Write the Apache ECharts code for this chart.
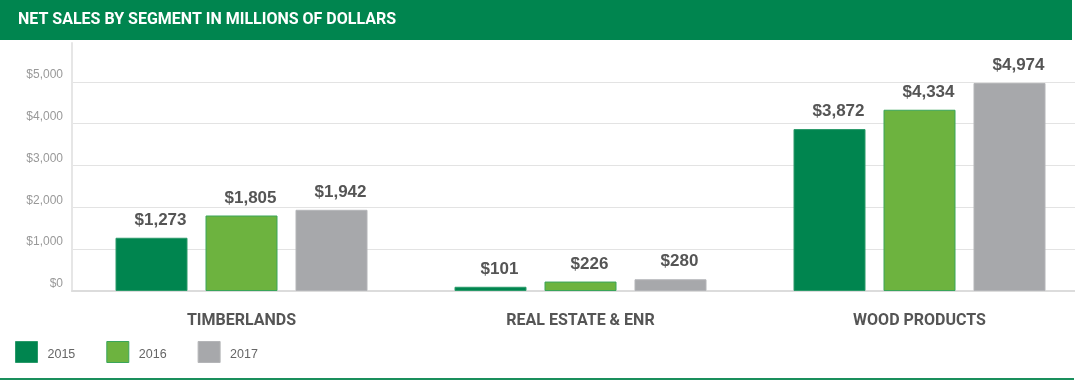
<!DOCTYPE html>
<html>
<head>
<meta charset="utf-8">
<script src="https://cdn.jsdelivr.net/npm/echarts@6/dist/echarts.min.js"></script>
<style>html,body{margin:0;padding:0;background:#fff}#c{width:1075px;height:381px}</style>
</head>
<body>
<div id="c"></div>
<script>
const categories = ['TIMBERLANDS', 'REAL ESTATE & ENR', 'WOOD PRODUCTS'];
const seriesNames = ['2015', '2016', '2017'];
const values2015 = [1273, 101, 3872];
const values2016 = [1805, 226, 4334];
const values2017 = [1942, 280, 4974];
const yTicks = [0, 1000, 2000, 3000, 4000, 5000];
const colors = ['#00854F', '#6DB33F', '#A7A8AB'];
const borders = ['#2a9a6a', '#3aa55a', '#b4b5b8'];

const chart = echarts.init(document.getElementById('c'), null, {renderer: 'canvas'});
const fmt = v => '$' + v.toLocaleString('en-US');
const allValues = [values2015, values2016, values2017];

chart.setOption({
  animation: false,
  color: colors,
  title: {
    text: 'NET SALES BY SEGMENT IN MILLIONS OF DOLLARS',
    left: 18, top: 12, padding: 0,
    textStyle: {color: '#fff', fontSize: 16, fontWeight: 'bold', fontFamily: 'Roboto'}
  },
  graphic: [
    {type: 'rect', z: -1, shape: {x: 0, y: 0, width: 1072, height: 40}, style: {fill: '#00854F'}},
    {type: 'line', shape: {x1: 0, y1: 379, x2: 1074, y2: 379}, style: {stroke: '#1a8f5c', lineWidth: 2}}
  ],
  legend: {
    left: 15, top: 341, padding: 0, itemWidth: 22, itemHeight: 21, itemGap: 31,
    icon: 'rect',
    itemStyle: {borderWidth: 1},
    formatter: '{t|{name}}',
    textStyle: {
      color: '#666', fontSize: 12.5, fontFamily: 'Liberation Sans',
      rich: {t: {color: '#666', fontSize: 12.5, fontFamily: 'Liberation Sans', padding: [6, 0, 0, 5]}}
    },
    data: seriesNames
  },
  grid: {left: 72, top: 43, width: 1017, height: 248, containLabel: false, outerBoundsMode: 'none'},
  xAxis: {
    type: 'category', data: categories,
    axisLine: {lineStyle: {color: '#dcdcdc', width: 2}},
    axisTick: {show: false},
    axisLabel: {margin: 22, color: '#555', fontSize: 16, fontWeight: 'bold', fontFamily: 'Roboto'}
  },
  yAxis: {
    type: 'value', min: 0, max: 5930, interval: 1000,
    axisLine: {show: true, lineStyle: {color: '#e6e6e6', width: 2}},
    axisTick: {show: false},
    splitLine: {show: true, showMaxLine: false, lineStyle: {color: '#e3e3e3', width: 1}},
    axisLabel: {
      margin: 9, color: '#999', fontSize: 12, fontFamily: 'Liberation Sans', showMaxLabel: false,
      verticalAlign: 'bottom', lineHeight: 14,
      formatter: v => yTicks.includes(v) ? fmt(v) : ''
    }
  },
  series: seriesNames.map((n, i) => ({
    name: n, type: 'bar', data: allValues[i],
    barWidth: 72, barGap: '25%',
    itemStyle: {color: colors[i], borderColor: borders[i], borderWidth: 1},
    label: {
      show: true, position: 'top', distance: 9, offset: [9, 0],
      color: '#555', fontSize: 17, fontWeight: 'bold', fontFamily: 'Liberation Sans',
      formatter: p => fmt(p.value)
    }
  }))
});
</script>
</body>
</html>
